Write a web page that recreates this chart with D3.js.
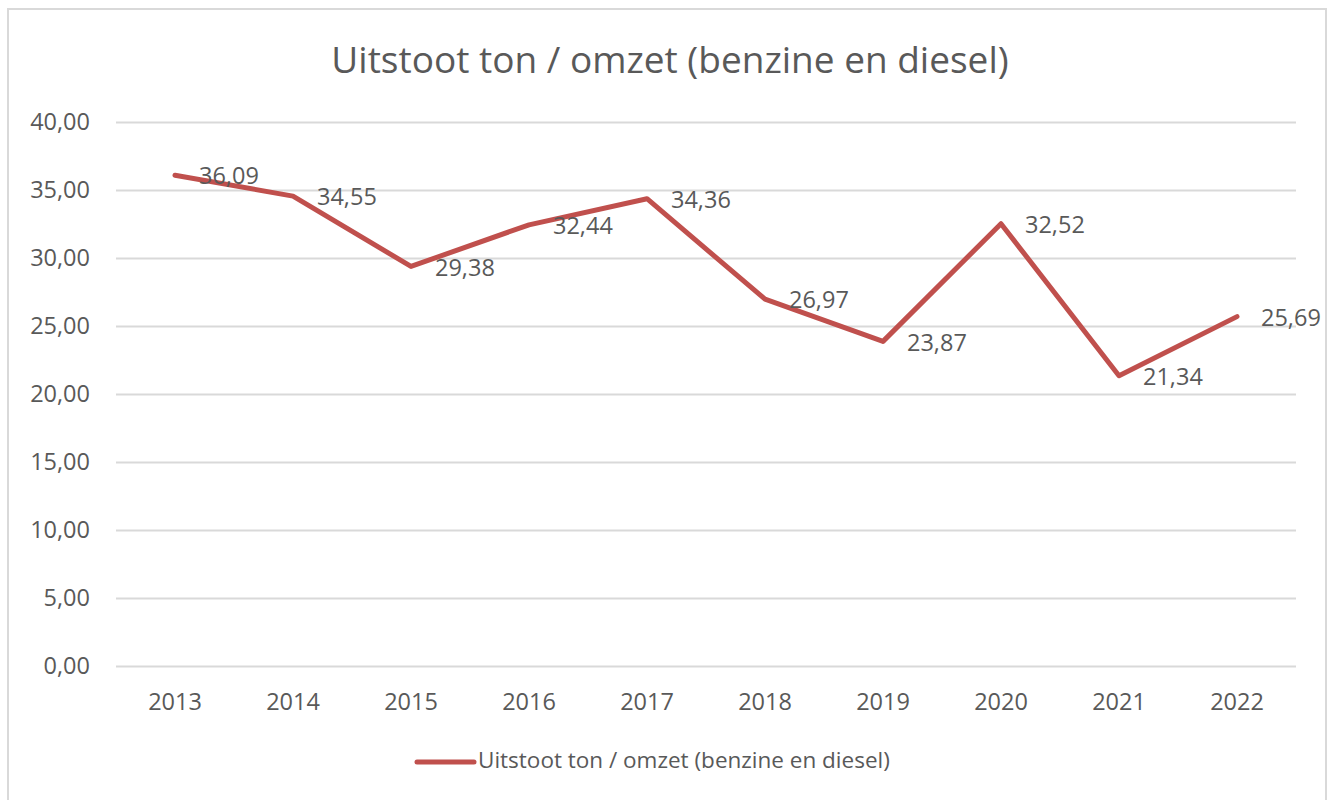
<!DOCTYPE html>
<html>
<head>
<meta charset="utf-8">
<script src="https://cdn.jsdelivr.net/npm/d3@7"></script>
<style>
  html, body { margin: 0; padding: 0; background: #fff; }
  svg { display: block; }
  text { font-family: "Open Sans", "Noto Sans", sans-serif; fill: #595959; }
</style>
</head>
<body>
<svg id="chart" width="1334" height="800"></svg>
<script>
const title = "Uitstoot ton / omzet (benzine en diesel)";
const seriesName = "Uitstoot ton / omzet (benzine en diesel)";
const years = ["2013","2014","2015","2016","2017","2018","2019","2020","2021","2022"];
const values = [36.09, 34.55, 29.38, 32.44, 34.36, 26.97, 23.87, 32.52, 21.34, 25.69];
const yTicks = [0, 5, 10, 15, 20, 25, 30, 35, 40];

const svg = d3.select("#chart");
const fmt = v => d3.format(".2f")(v).replace(".", ",");

// outer border
svg.append("rect").attr("x", 8).attr("y", 9).attr("width", 1318).attr("height", 800)
  .attr("fill", "#fff").attr("stroke", "#d9d9d9").attr("stroke-width", 2);

const plot = { left: 116, right: 1296, top: 122, bottom: 666 };

const x = d3.scaleBand().domain(years).range([plot.left, plot.right]);
const y = d3.scaleLinear().domain([0, 40]).range([plot.bottom, plot.top]);

// title
svg.append("text").attr("x", 670).attr("y", 73)
  .attr("text-anchor", "middle")
  .style("font-size", "37px")
  .text(title);

// gridlines + y labels
const yAxis = d3.axisLeft(y).tickValues(yTicks).tickSize(-(plot.right - plot.left)).tickPadding(26).tickFormat(fmt);
const gy = svg.append("g").attr("transform", `translate(${plot.left},0)`).call(yAxis);
gy.select(".domain").remove();
gy.selectAll(".tick line").attr("stroke", "#d9d9d9").attr("stroke-width", 2);
gy.selectAll(".tick text").style("font-size", "23.5px").attr("fill", "#595959").style("font-family", null);

// x labels
const xAxis = d3.axisBottom(x).tickSize(0).tickPadding(27);
const gx = svg.append("g").attr("transform", `translate(0,${plot.bottom})`).call(xAxis);
gx.select(".domain").remove();
gx.selectAll(".tick text").style("font-size", "23.5px").attr("fill", "#595959").style("font-family", null);

// line
const data = years.map((yr, i) => ({ yr, v: values[i] }));
const line = d3.line().x(d => x(d.yr) + x.bandwidth() / 2).y(d => y(d.v));
svg.append("path").datum(data).attr("d", line)
  .attr("fill", "none").attr("stroke", "#c0504d").attr("stroke-width", 5)
  .attr("stroke-linecap", "round").attr("stroke-linejoin", "round");

// data labels
svg.append("g").selectAll("text").data(data).join("text")
  .attr("x", d => x(d.yr) + x.bandwidth() / 2 + 24)
  .attr("y", d => y(d.v) + 3)
  .attr("dominant-baseline", "middle")
  .style("font-size", "23.5px")
  .text(d => fmt(d.v));

// legend
const lg = svg.append("g");
lg.append("line").attr("x1", 417).attr("x2", 474).attr("y1", 762).attr("y2", 762)
  .attr("stroke", "#c0504d").attr("stroke-width", 5).attr("stroke-linecap", "round");
lg.append("text").attr("x", 478).attr("y", 762).attr("dominant-baseline", "middle")
  .style("font-size", "22.5px").text(seriesName);
</script>
</body>
</html>
